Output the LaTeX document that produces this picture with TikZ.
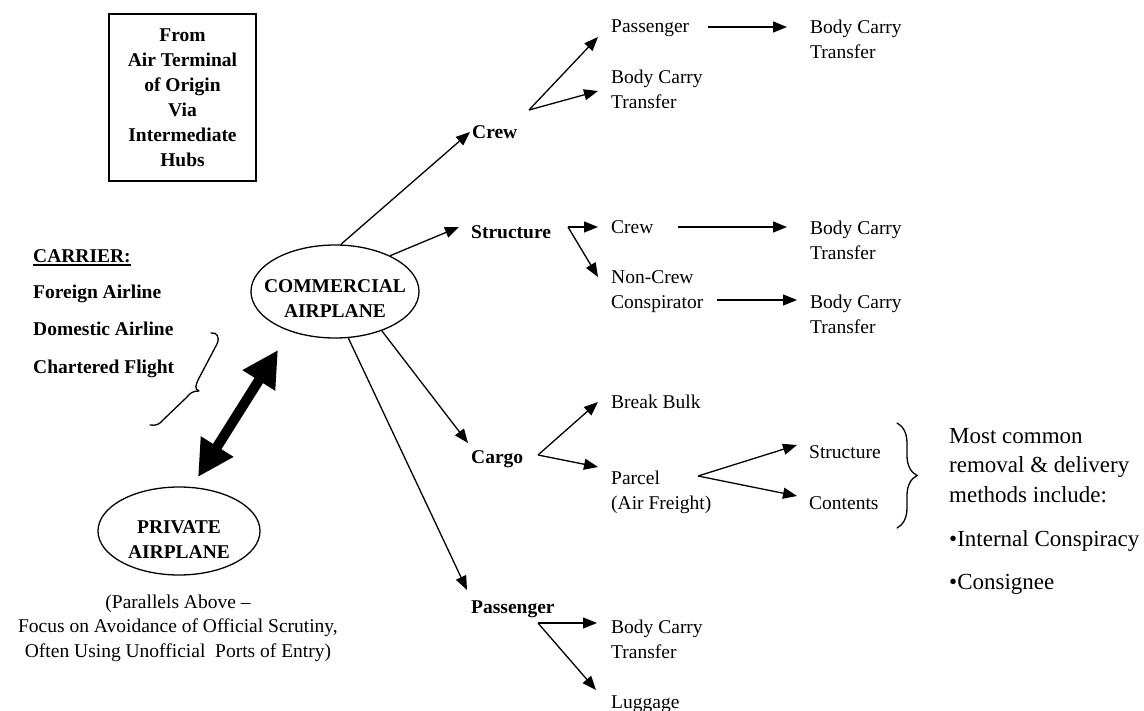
\documentclass[tikz,border=0pt]{standalone}
\usepackage{fontspec}
\setmainfont{Liberation Serif}
\usetikzlibrary{arrows.meta,shapes.geometric,calc,decorations.pathreplacing}

\begin{document}
\begin{tikzpicture}[x=1pt,y=-1pt,
  txt/.style={inner sep=0pt, font=\fontsize{19.5}{25}\selectfont, align=left, anchor=base west},
  btxt/.style={txt, font=\fontsize{19.5}{25}\selectfont\bfseries},
  bigtxt/.style={txt, font=\fontsize{23}{29.5}\selectfont},
  outline/.style={draw, line width=1.3pt},
  arr/.style={line width=1.3pt, -{Triangle[length=14pt,width=11pt]}},
  dblarr/.style={line width=10pt, {Triangle[length=36pt,width=36pt]}-{Triangle[length=36pt,width=36pt]}},
  bracket/.style={line width=1.3pt, line cap=round}
]
\useasboundingbox (0,0) rectangle (1144,710);

% origin box
\node[outline, minimum width=147pt, minimum height=167pt, inner sep=0pt, align=center,
      font=\fontsize{19.5}{25}\selectfont\bfseries] (origin) at (182.5,97.5)
      {From\\Air Terminal\\of Origin\\Via\\Intermediate\\Hubs};

% carrier list
\node[btxt] (carrier) at (33,262) {CARRIER:};
\draw[line width=1.4pt] ($(carrier.base west)+(0,3)$) -- ($(carrier.base east)+(0,3)$);
\node[btxt] (foreign) at (33,298) {Foreign Airline};
\node[btxt] (domestic) at (33,335) {Domestic Airline};
\node[btxt] (chartered) at (33,373) {Chartered Flight};

% brace below the carrier list
\draw[bracket] (211,333) .. controls (217,332) and (220,337) .. (217,344)
  -- (198,380) .. controls (196,385) and (194,389) .. (199,391)
  (199,391) .. controls (193,391) and (190,393) .. (187,397)
  -- (163,420) .. controls (160,424) and (156,426) .. (150,425);

% the two airplanes (multi-line nodes sit on the baseline of their last line)
\node[outline, ellipse, minimum width=168pt, minimum height=93pt] (comm) at (335,291.5) {};
\node[btxt, align=center, anchor=center] (commtxt) at (335,299) {COMMERCIAL\\AIRPLANE};

\node[outline, ellipse, minimum width=162pt, minimum height=88pt] (priv) at (179,531) {};
\node[btxt, align=center, anchor=center] (privtxt) at (179,540) {PRIVATE\\AIRPLANE};
\node[txt, align=center, anchor=base, font=\fontsize{19.5}{24.5}\selectfont] (privnote) at (178,657)
  {(Parallels Above –\\Focus on Avoidance of Official Scrutiny,\\Often Using Unofficial~ Ports of Entry)};

\coordinate (dlo) at (198,477);
\coordinate (dhi) at (278,350);
\draw[dblarr] (dlo) -- (dhi);

% first level
\node[btxt] (crew) at (472,138) {Crew};
\node[btxt] (struct) at (471,238) {Structure};
\node[btxt] (cargo) at (471,463) {Cargo};
\node[btxt] (pass) at (471,613) {Passenger};

\draw[arr] (comm.83) -- ($(crew.base west)+(-2,-6)$);
\draw[arr] (comm.33) -- ($(struct.base west)+(-12,-11)$);
\draw[arr] (comm.-40) -- ($(cargo.base west)+(-3,-20)$);
\draw[arr] (comm.-74) -- ($(pass.base west)+(-4,-23)$);

% crew branch
\node[txt] (pas1) at (611,32) {Passenger};
\node[txt] (bc1) at (611,108) {Body Carry\\Transfer};
\node[txt] (bc2) at (810,58) {Body Carry\\Transfer};
\coordinate (crewfork) at (529,110);
\draw[arr] (crewfork) -- ($(pas1.base west)+(-13,5)$);
\draw[arr] (crewfork) -- ($(bc1.base west)+(-13,-17)$);
\draw[arr] ($(pas1.base east)+(19,-5)$) -- ($(bc2.base west)+(-23,-31)$);

% structure branch
\node[txt] (screw) at (611,233) {Crew};
\node[txt] (ncrew) at (611,308) {Non-Crew\\Conspirator};
\node[txt] (bc3) at (810,259) {Body Carry\\Transfer};
\node[txt] (bc4) at (810,333) {Body Carry\\Transfer};
\coordinate (structfork) at (568,227);
\draw[arr] (structfork) -- ($(screw.base west)+(-13,-6)$);
\draw[arr] (structfork) -- ($(ncrew.base west)+(-13,-31)$);
\draw[arr] ($(screw.base east)+(24,-6)$) -- ($(bc3.base west)+(-23,-32)$);
\draw[arr] ($(ncrew.east |- bc4.base west)+(14,-33)$) -- ($(bc4.base west)+(-13,-33)$);

% cargo branch
\node[txt] (bbulk) at (611,408) {Break Bulk};
\node[txt] (parcel) at (611,509) {Parcel\\(Air Freight)};
\node[txt] (pstruct) at (809,458) {Structure};
\node[txt] (contents) at (809,509) {Contents};
\coordinate (cargofork) at (538,455);
\draw[arr] (cargofork) -- ($(bbulk.base west)+(-13,-6)$);
\draw[arr] (cargofork) -- ($(parcel.base west)+(-13,-42)$);
\coordinate (parcelfork) at (698,476);
\draw[arr] (parcelfork) -- ($(pstruct.base west)+(-12,-13)$);
\draw[arr] (parcelfork) -- ($(contents.base west)+(-12,-13)$);

\draw[bracket, decorate, decoration={brace, amplitude=20pt}] (897,423) -- (897,528);
\node[bigtxt] (methods) at (949,502) {Most common\\removal \& delivery\\methods include:};
\node[bigtxt] (internal) at (949,546) {•Internal Conspiracy};
\node[bigtxt] (consignee) at (949,589) {•Consignee};

% passenger branch
\node[txt] (bc5) at (611,658) {Body Carry\\Transfer};
\node[txt] (lug) at (611,708) {Luggage};
\coordinate (passfork) at (538,623);
\draw[arr] (passfork) -- ($(bc5.base west)+(-14,-35)$);
\draw[arr] (passfork) -- ($(lug.base west)+(-15,-18)$);
\end{tikzpicture}
\end{document}
